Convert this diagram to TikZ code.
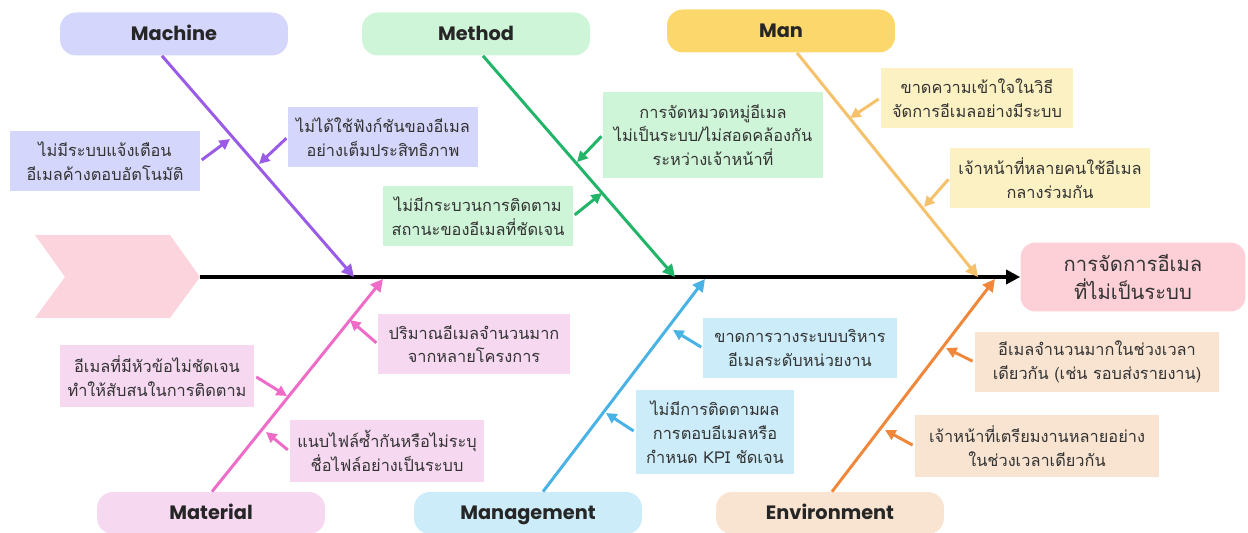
\documentclass[tikz,border=0pt]{standalone}
\usepackage{fontspec}
\setmainfont{Poppins}
\newfontfamily\thaifont[Script=Thai]{Loma}
\usetikzlibrary{arrows.meta,calc}

\definecolor{machfill}{HTML}{D5D6FB}
\definecolor{machline}{HTML}{9A5CE6}
\definecolor{methfill}{HTML}{CFF5D9}
\definecolor{methline}{HTML}{22B468}
\definecolor{manhead}{HTML}{FCD86C}
\definecolor{manfill}{HTML}{FCF1C3}
\definecolor{manline}{HTML}{F5C26B}
\definecolor{matfill}{HTML}{F6D8F1}
\definecolor{matline}{HTML}{EE6CC8}
\definecolor{mgmtfill}{HTML}{CBECF8}
\definecolor{mgmtline}{HTML}{4AB3E6}
\definecolor{envfill}{HTML}{F8E4D1}
\definecolor{envline}{HTML}{F0873A}
\definecolor{effectfill}{HTML}{FDD0D7}
\definecolor{tailfill}{HTML}{FCD4DD}

\tikzset{
    head/.style={rounded corners=0.32cm, minimum width=4.56cm, minimum height=0.86cm,
        text height=1.6ex, text depth=0.3ex,
        font=\fontsize{11}{13}\selectfont\bfseries, text=black!85},
    cause/.style={align=center, minimum height=1.2cm, inner sep=0pt,
        font=\thaifont\fontsize{9.3}{13.5}\selectfont, text=black!80},
    bone/.style={line width=1.7pt, -{Triangle[length=7pt,width=7pt]}},
    twig/.style={line width=1.7pt, -{Triangle[length=6pt,width=6pt]}, shorten <=1pt},
}

\begin{document}
\begin{tikzpicture}[x=0.02cm,y=-0.02cm]
    \useasboundingbox (0,0) rectangle (1248,533);

    % tail and spine
    \fill[tailfill] (35,235) -- (170,235) -- (200,277) -- (170,318) -- (35,318) -- (65,277) -- cycle;
    \node[cause, fill=effectfill, rounded corners=0.3cm, minimum width=4.5cm, minimum height=1.38cm,
        font=\thaifont\fontsize{11.5}{15.5}\selectfont] (effect) at (1133,277) {การจัดการอีเมล\\ที่ไม่เป็นระบบ};
    \coordinate (tail) at (200,277);
    \draw[line width=1.8pt, -{Triangle[length=8pt,width=8pt]}] (tail) -- (effect.west);

    % heads
    \node[head, fill=machfill] (mach) at (174,34) {Machine};
    \node[head, fill=methfill] (meth) at (476,34) {Method};
    \node[head, fill=manhead] (man) at (781,31) {Man};
    \node[head, fill=matfill, minimum height=0.84cm] (mat) at (211,513) {Material};
    \node[head, fill=mgmtfill, minimum height=0.84cm] (mgmt) at (528,513) {Management};
    \node[head, fill=envfill, minimum height=0.84cm] (env) at (830,513) {Environment};

    \coordinate (machend) at (354,277);
    \coordinate (methend) at (675,277);
    \coordinate (manend) at (978,277);
    \coordinate (matend) at (383,279);
    \coordinate (mgmtend) at (705,279);
    \coordinate (envend) at (995,279);

    \draw[bone, machline] ($(mach.south)+(-12,0)$) -- (machend);
    \draw[bone, methline] ($(meth.south)+(7,0)$) -- (methend);
    \draw[bone, manline] ($(man.south)+(16,0)$) -- (manend);
    \draw[bone, matline] ($(mat.north)+(1,0)$) -- (matend);
    \draw[bone, mgmtline] ($(mgmt.north)+(15,0)$) -- (mgmtend);
    \draw[bone, envline] ($(env.north)+(2,0)$) -- (envend);

    % causes
    \node[cause, fill=machfill, minimum width=3.8cm] (mc1) at (105,161) {ไม่มีระบบแจ้งเตือน\\อีเมลค้างตอบอัตโนมัติ};
    \node[cause, fill=machfill, minimum width=3.8cm] (mc2) at (383,137) {ไม่ได้ใช้ฟังก์ชันของอีเมล\\อย่างเต็มประสิทธิภาพ};
    \node[cause, fill=methfill, minimum width=4.4cm, minimum height=1.72cm] (me1) at (713,135) {การจัดหมวดหมู่อีเมล\\ไม่เป็นระบบ/ไม่สอดคล้องกัน\\ระหว่างเจ้าหน้าที่};
    \node[cause, fill=methfill, minimum width=3.8cm] (me2) at (478,216) {ไม่มีกระบวนการติดตาม\\สถานะของอีเมลที่ชัดเจน};
    \node[cause, fill=manfill, minimum width=3.86cm] (ma1) at (977,98) {ขาดความเข้าใจในวิธี\\จัดการอีเมลอย่างมีระบบ};
    \node[cause, fill=manfill, minimum width=4cm] (ma2) at (1050,178) {เจ้าหน้าที่หลายคนใช้อีเมล\\กลางร่วมกัน};
    \node[cause, fill=matfill, minimum width=3.84cm] (mt1) at (474,344) {ปริมาณอีเมลจำนวนมาก\\จากหลายโครงการ};
    \node[cause, fill=matfill, minimum width=3.9cm, minimum height=1.24cm] (mt2) at (157,376) {อีเมลที่มีหัวข้อไม่ชัดเจน\\ทำให้สับสนในการติดตาม};
    \node[cause, fill=matfill, minimum width=3.9cm, minimum height=1.24cm] (mt3) at (387,451) {แนบไฟล์ซ้ำกันหรือไม่ระบุ\\ชื่อไฟล์อย่างเป็นระบบ};
    \node[cause, fill=mgmtfill, minimum width=3.88cm] (mg1) at (800,348) {ขาดการวางระบบบริหาร\\อีเมลระดับหน่วยงาน};
    \node[cause, fill=mgmtfill, minimum width=3.18cm, minimum height=1.7cm] (mg2) at (715,432) {ไม่มีการติดตามผล\\การตอบอีเมลหรือ\\กำหนด KPI ชัดเจน};
    \node[cause, fill=envfill, minimum width=4.9cm, minimum height=1.22cm] (en1) at (1097,362) {อีเมลจำนวนมากในช่วงเวลา\\เดียวกัน (เช่น รอบส่งรายงาน)};
    \node[cause, fill=envfill, minimum width=4.9cm, minimum height=1.24cm] (en2) at (1037,446) {เจ้าหน้าที่เตรียมงานหลายอย่าง\\ในช่วงเวลาเดียวกัน};

    \coordinate (tmc1) at (230,139);
    \coordinate (tmc2) at (259,164);
    \coordinate (tme1) at (577,162);
    \coordinate (tme2) at (602,193);
    \coordinate (tma1) at (850,118);
    \coordinate (tma2) at (924,207);
    \coordinate (tmt1) at (350,320);
    \coordinate (tmt2) at (287,396);
    \coordinate (tmt3) at (266,432);
    \coordinate (tmg1) at (673,330);
    \coordinate (tmg2) at (606,413);
    \coordinate (ten1) at (946,348);
    \coordinate (ten2) at (885,430);

    \draw[twig, machline] (mc1.east) -- (tmc1);
    \draw[twig, machline] (mc2.west) -- (tmc2);
    \draw[twig, methline] (me1.west) -- (tme1);
    \draw[twig, methline] (me2.east) -- (tme2);
    \draw[twig, manline] (ma1.west) -- (tma1);
    \draw[twig, manline] (ma2.west) -- (tma2);
    \draw[twig, matline] (mt1.west) -- (tmt1);
    \draw[twig, matline] (mt2.east) -- (tmt2);
    \draw[twig, matline] (mt3.west) -- (tmt3);
    \draw[twig, mgmtline] (mg1.west) -- (tmg1);
    \draw[twig, mgmtline] (mg2.west) -- (tmg2);
    \draw[twig, envline] (en1.west) -- (ten1);
    \draw[twig, envline] (en2.west) -- (ten2);
\end{tikzpicture}
\end{document}
